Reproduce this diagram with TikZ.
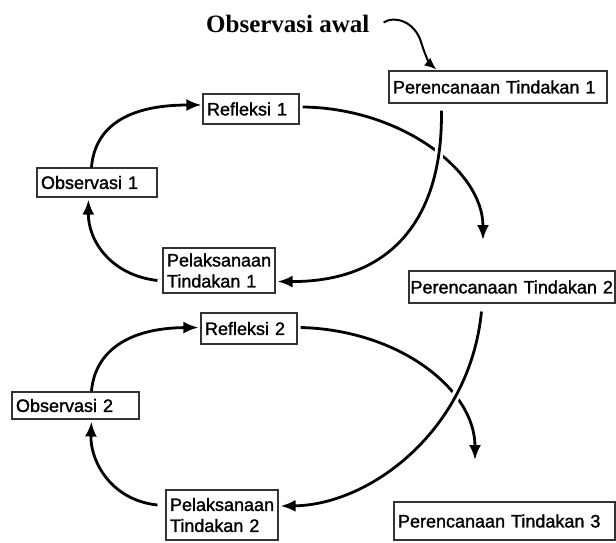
\documentclass[tikz,border=0pt]{standalone}
\usepackage{fontspec}
\setmainfont[FakeBold=1.5]{Liberation Sans}
\newfontfamily\serifb{Liberation Serif}
\usetikzlibrary{arrows.meta,calc}
\begin{document}
\begin{tikzpicture}[x=1pt,y=-1pt,
  box/.style={draw=black!80, line width=1.1pt, inner xsep=4pt, inner ysep=0pt, align=left,
    font=\fontsize{18}{21}\selectfont, anchor=center},
  flow/.style={line width=2.8pt, -{Latex[length=15pt,width=12pt]}},
  over/.style={preaction={draw=white,line width=9pt,-}}]
\useasboundingbox (0,0) rectangle (616,543);
% boxes
\node[box, text width=210, minimum height=32] (p1) at (498,87) {Perencanaan Tindakan 1};
\node[box, text width=88, minimum height=30] (ref1) at (251,109) {Refleksi 1};
\node[box, text width=112, minimum height=29] (obs1) at (97,182.5) {Observasi 1};
\node[box, text width=104, minimum height=45] (pel1) at (219,270.5) {Pelaksanaan\\Tindakan 1};
\node[box, inner xsep=1.5pt, text width=203, minimum height=32] (p2) at (512,287) {Perencanaan Tindakan 2};
\node[box, text width=88, minimum height=31] (ref2) at (249,328.5) {Refleksi 2};
\node[box, text width=119, minimum height=27] (obs2) at (75.5,405.5) {Observasi 2};
\node[box, text width=104, minimum height=50] (pel2) at (222,515) {Pelaksanaan\\Tindakan 2};
\node[box, text width=213, minimum height=38] (p3) at (504.5,521) {Perencanaan Tindakan 3};
% label
\node[font=\serifb\bfseries\fontsize{25}{26}\selectfont, anchor=base west, inner sep=0pt] (oa) at (206,33) {Observasi awal};
\draw[line width=2pt, -{Latex[length=12pt,width=10pt]}] ($(oa.east)+(14,-2)$) .. controls (395,15) and (415,22) .. (421,42) .. controls (426,58) and (430,64) .. ($(p1.north west)+(48,-1)$);
% loop 1
\coordinate (c1) at (483,240);
\draw[flow] ($(obs1.north west)+(55,0)$) .. controls (95,125) and (130,105) .. ($(ref1.west)+(-1,-4)$);
\draw[flow] ($(pel1.west)+(-5,10)$) .. controls (110,275) and (88,240) .. ($(obs1.south west)+(52,2)$);
\draw[flow] ($(ref1.east)+(3,-2)$) .. controls (400,108) and (483,170) .. (c1);
\draw[flow,over] ($(p1.south west)+(53,7)$) .. controls (443,220) and (390,282) .. ($(pel1.east)+(2,11)$);
% loop 2
\coordinate (c2) at (475,460);
\draw[flow] ($(obs2.north west)+(80,0)$) .. controls (95,350) and (130,328) .. ($(ref2.west)+(-2,-1)$);
\draw[flow] ($(pel2.west)+(-8,-10)$) .. controls (110,500) and (90,460) .. ($(obs2.south west)+(80,2)$);
\draw[flow] ($(ref2.east)+(3,-1)$) .. controls (400,330) and (475,390) .. (c2);
\draw[flow,over] ($(p2.south west)+(73,8)$) .. controls (470,430) and (370,505) .. ($(pel2.east)+(2,-9)$);
\end{tikzpicture}
\end{document}
